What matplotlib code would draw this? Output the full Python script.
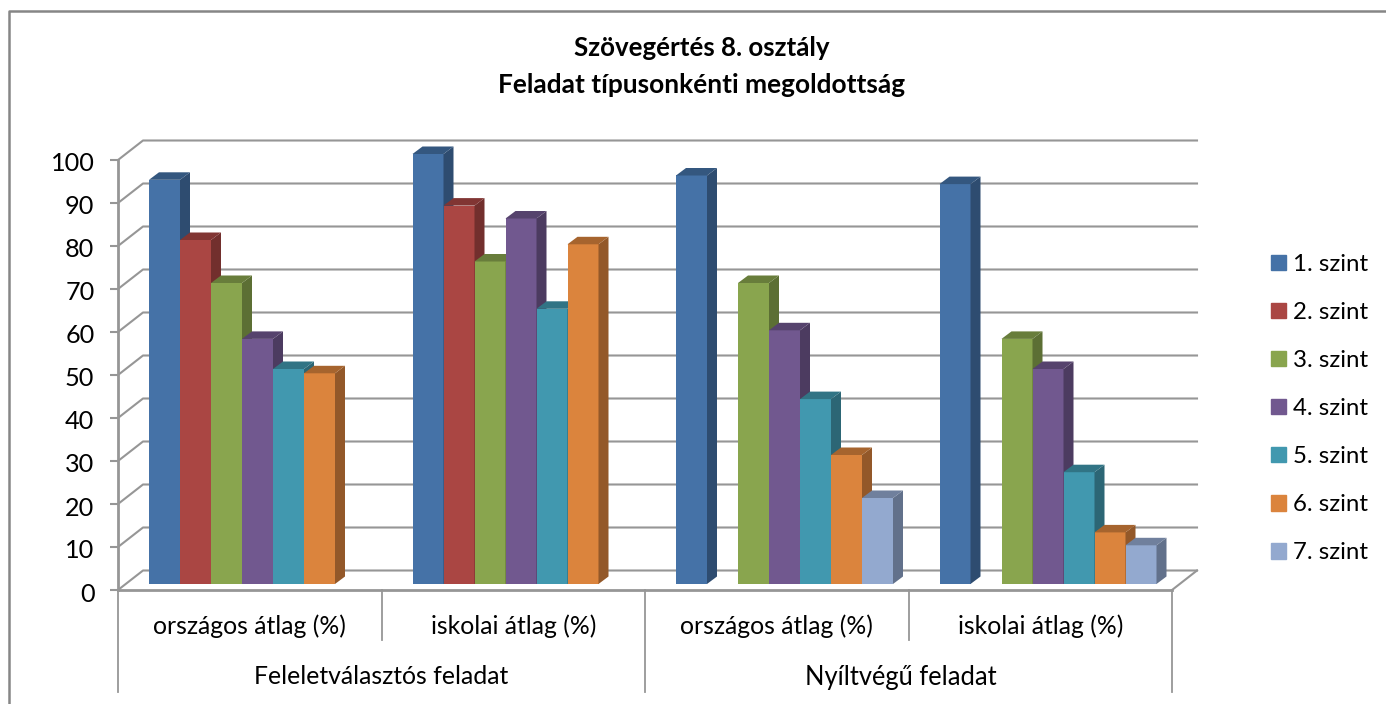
import matplotlib
matplotlib.use("Agg")
import matplotlib.pyplot as plt
from matplotlib.lines import Line2D
from matplotlib.patches import Patch
from matplotlib.colors import to_rgb
from matplotlib.transforms import ScaledTranslation
import numpy as np

plt.rcParams['font.family'] = ['Lato', 'DejaVu Sans']

W, H = 1386, 704

levels = ["1. szint", "2. szint", "3. szint", "4. szint", "5. szint", "6. szint", "7. szint"]
sub_labels = ["országos átlag (%)", "iskolai átlag (%)", "országos átlag (%)", "iskolai átlag (%)"]
main_labels = ["Feleletválasztós feladat", "Nyíltvégű feladat"]
yticks = [0, 10, 20, 30, 40, 50, 60, 70, 80, 90, 100]

# one list per level, nan = no bar
szint1 = [94, 100, 95, 93]
szint2 = [80, 88, np.nan, np.nan]
szint3 = [70, 75, 70, 57]
szint4 = [57, 85, 59, 50]
szint5 = [50, 64, 43, 26]
szint6 = [49, 79, 30, 12]
szint7 = [np.nan, np.nan, 20, 9]
series = [szint1, szint2, szint3, szint4, szint5, szint6, szint7]

colors = ["#4572A7", "#AA4643", "#89A54E", "#71588F", "#4198AF", "#DB843D", "#93A9CF"]
grey = "#969696"

fig = plt.figure(figsize=(W / 100, H / 100), dpi=100)
ax = fig.add_axes([118 / W, 1 - 590 / H, (1172 - 118) / W, 430 / H])
ax.set_xlim(0, 4)
ax.set_ylim(0, 100)

# pixel sizes turned into data units
sx = 1 / 263.5
sy = 1 / 4.3
wall_dx, wall_dy = 25 * sx, 19.5 * sy
depth_dx, depth_dy = 10 * sx, 7.5 * sy
bar_w = 31 * sx
lift = 6 * sy


def shade(c, f):
    return tuple(v * f for v in to_rgb(c))


# back wall and floor
for v in yticks:
    ax.plot([0, wall_dx, 4 + wall_dx], [v, v + wall_dy, v + wall_dy],
            color=grey, lw=1.5, zorder=1, clip_on=False)
ax.plot([4, 4 + wall_dx], [0, wall_dy], color=grey, lw=1.5, zorder=1, clip_on=False)

# bars, left to right so each one covers the side of the previous one
for k, vals in enumerate(series):
    for g, v in enumerate(vals):
        if np.isnan(v):
            continue
        x0 = g + (31 + 31 * k) * sx
        z = 3 + k + g * 10
        ax.bar(x0, v, bar_w, bottom=lift, align='edge', color=colors[k], zorder=z, clip_on=False)
        top = v + lift
        ax.fill([x0 + bar_w, x0 + bar_w + depth_dx, x0 + bar_w + depth_dx, x0 + bar_w],
                [lift, lift + depth_dy, top + depth_dy, top],
                color=shade(colors[k], 0.67), lw=0, zorder=z, clip_on=False)
        ax.fill([x0, x0 + depth_dx, x0 + bar_w + depth_dx, x0 + bar_w],
                [top, top + depth_dy, top + depth_dy, top],
                color=shade(colors[k], 0.76), lw=0, zorder=z, clip_on=False)

for s in ['top', 'right']:
    ax.spines[s].set_visible(False)
for s in ['left', 'bottom']:
    ax.spines[s].set_color(grey)
    ax.spines[s].set_linewidth(2)
    ax.spines[s].set_zorder(2)

ax.set_yticks(yticks)
ax.set_yticklabels([str(v) for v in yticks], fontsize=18.2, color="#000000")
ax.tick_params(axis='y', length=6, width=1.5, color=grey, pad=11)
for lab in ax.get_yticklabels():
    lab.set_transform(lab.get_transform() + ScaledTranslation(0, -2 / 100, fig.dpi_scale_trans))

# two level category axis
ax.set_xticks([0.5, 1.5, 2.5, 3.5])
ax.set_xticklabels(sub_labels, fontsize=17.8, color="#000000")
ax.tick_params(axis='x', length=0, pad=17.5)
for g in range(5):
    bottom = 692 if g % 2 == 0 else 640
    ax.plot([g, g], [0, -(bottom - 590) * sy], color=grey, lw=1.3, clip_on=False, zorder=1)
ax.text(1, -(677 - 590) * sy, main_labels[0], fontsize=17.8, ha='center', va='center')
ax.text(2.97, -(677 - 590) * sy, main_labels[1], fontsize=18.4, ha='center', va='center')

fig.text(702 / W, 1 - 48 / H, "Szövegértés 8. osztály", fontsize=18.6, fontweight='bold',
         ha='center', va='center')
fig.text(702 / W, 1 - 85 / H, "Feladat típusonkénti megoldottság", fontsize=18.9, fontweight='bold',
         ha='center', va='center')

handles = [Patch(color=c, label=l) for c, l in zip(colors, levels)]
fig.legend(handles=handles, loc='upper left', bbox_to_anchor=(1271 / W, 1 - 254 / H),
           frameon=False, fontsize=17.3, borderpad=0, borderaxespad=0,
           labelspacing=1.125, handlelength=0.625, handleheight=0.625, handletextpad=0.3)

# outer chart frame
fig.add_artist(Line2D([9 / W, 9 / W, 1], [0, 1 - 11 / H, 1 - 11 / H], color="#868686", lw=1.8))

fig.savefig("out.png", dpi=100)
